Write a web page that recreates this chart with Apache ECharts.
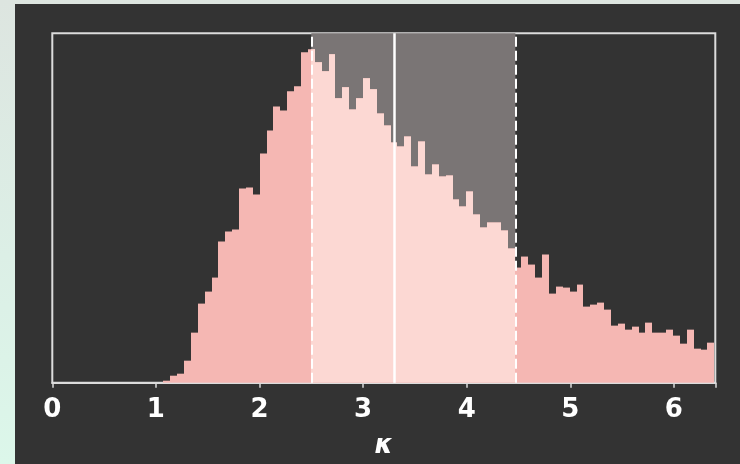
<!DOCTYPE html>
<html>
<head>
<meta charset="utf-8">
<script src="https://cdn.jsdelivr.net/npm/echarts@6/dist/echarts.min.js"></script>
<style>
  html, body { margin: 0; padding: 0; width: 740px; height: 464px; overflow: hidden; }
  body { background: linear-gradient(to bottom, #dde5e0 0%, #dcefe6 55%, #dcf7ea 100%); position: relative; }
  #panel { position: absolute; left: 15px; top: 4px; width: 725px; height: 460px; background: #333333; }
  #chart { position: absolute; left: 0; top: 0; width: 740px; height: 464px; }
</style>
</head>
<body>
<div id="panel"></div>
<div id="chart"></div>
<script>
// Histogram of kappa: 80 equal-width bins
const binStart = 1.0714;
const binWidth = 0.06649;
const counts = [
  2, 7, 9, 22, 50, 79, 91, 105, 141, 151,
  153, 194, 195, 188, 229, 252, 276, 272, 291, 296,
  330, 333, 320, 311, 328, 284, 295, 273, 284, 304,
  293, 269, 257, 240, 236, 246, 216, 241, 208, 218,
  206, 207, 183, 176, 191, 168, 155, 160, 160, 152,
  134, 115, 126, 118, 105, 128, 89, 96, 95, 91,
  98, 76, 78, 80, 73, 57, 59, 53, 56, 50,
  60, 50, 50, 53, 47, 39, 53, 34, 33, 40
];
// Highlighted interval (dashed) and central value (solid)
const bandEdges = [2.5, 4.47];
const centerValue = 3.3;
const xTicks = [0, 1, 2, 3, 4, 5, 6];
const xMax = 6.4;
const yMax = 349;

const bins = counts.map((c, i) => [binStart + i * binWidth, binStart + (i + 1) * binWidth, c]);
const innerBins = bins
  .filter(b => b[1] > bandEdges[0] && b[0] < bandEdges[1])
  .map(b => [Math.max(b[0], bandEdges[0]), Math.min(b[1], bandEdges[1]), b[2]]);

function rectRenderer(fill) {
  return function (params, api) {
    const l = api.value(0), r = api.value(1), c = api.value(2);
    const pTop = api.coord([l, c]);
    const pBot = api.coord([r, 0]);
    const x0 = Math.round(pTop[0]);
    const x1 = Math.round(pBot[0]);
    return {
      type: 'rect',
      shape: { x: x0, y: pTop[1], width: x1 - x0, height: pBot[1] - pTop[1] },
      style: { fill: fill }
    };
  };
}

const chart = echarts.init(document.getElementById('chart'), null, { renderer: 'canvas' });
chart.setOption({
  backgroundColor: 'transparent',
  animation: false,
  grid: {
    left: 52.3, right: 24.7, top: 33.3, bottom: 81.3,
    containLabel: false, outerBoundsMode: 'none',
    show: true, borderColor: '#dcdcdc', borderWidth: 2, backgroundColor: 'transparent'
  },
  xAxis: {
    type: 'value', min: 0, max: xMax, interval: 1,
    name: 'κ', nameLocation: 'middle', nameGap: 51,
    nameTextStyle: { color: '#ffffff', fontSize: 26, fontWeight: 'bold', fontStyle: 'italic', fontFamily: 'DejaVu Sans' },
    axisLine: { show: true, lineStyle: { color: '#dcdcdc', width: 2 } },
    axisTick: { show: true, length: 5, lineStyle: { color: '#dcdcdc', width: 1.5 } },
    axisLabel: {
      color: '#ffffff', fontSize: 26, fontWeight: 'bold', fontFamily: 'DejaVu Sans', margin: 15,
      formatter: v => (xTicks.indexOf(v) >= 0 ? String(v) : '')
    },
    splitLine: { show: false }
  },
  yAxis: {
    type: 'value', min: 0, max: yMax, show: false, splitLine: { show: false }
  },
  series: [
    {
      type: 'line', z: 1, data: [[0, 0]], symbol: 'none', lineStyle: { opacity: 0 },
      silent: true,
      markArea: {
        silent: true,
        itemStyle: { color: '#7a7575' },
        data: [[{ xAxis: bandEdges[0] }, { xAxis: bandEdges[1] }]]
      }
    },
    {
      type: 'custom', z: 2, data: bins, encode: { x: [0, 1], y: 2 },
      renderItem: rectRenderer('#f5b7b3'), silent: true
    },
    {
      type: 'custom', z: 3, data: innerBins, encode: { x: [0, 1], y: 2 },
      renderItem: rectRenderer('#fcd8d3'), silent: true
    },
    {
      type: 'line', z: 4, data: [[0, 0]], symbol: 'none', lineStyle: { opacity: 0 },
      silent: true,
      markLine: {
        silent: true, symbol: 'none', label: { show: false },
        data: [
          { xAxis: bandEdges[0], lineStyle: { color: '#ffffff', width: 2, type: [10, 4] } },
          { xAxis: bandEdges[1], lineStyle: { color: '#ffffff', width: 2, type: [10, 4] } },
          { xAxis: centerValue, lineStyle: { color: '#ffffff', width: 2.5, type: 'solid' } }
        ]
      }
    }
  ]
});
</script>
</body>
</html>
